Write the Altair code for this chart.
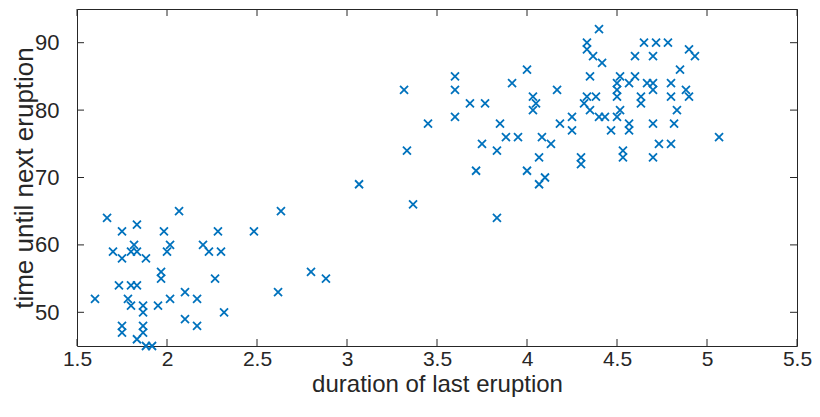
import altair as alt
import pandas as pd

duration = [
    1.667, 2.067, 1.833, 1.75, 1.983, 2.283, 1.817, 1.8, 1.833, 2.017, 2.0, 2.2, 1.7, 1.75, 1.883,
    2.233, 2.3, 1.967, 1.967, 2.267, 1.733, 1.8, 1.833, 1.6, 1.783, 1.8, 2.017, 2.1, 2.167, 1.95,
    1.867, 1.867, 2.317, 2.1, 2.167, 1.75, 1.75, 1.867, 1.867, 1.833, 1.883, 1.917,
    3.067, 2.633, 2.483, 2.8, 2.883, 2.617,
    3.317, 3.6, 3.6, 3.683, 3.767, 3.6, 3.45, 3.85, 3.883, 3.95, 3.75, 3.833, 3.333, 3.717, 3.367,
    3.833, 4.0, 3.917, 4.033, 4.05, 4.033, 4.083, 4.133, 4.067, 4.0, 4.1, 4.067, 4.167, 4.183,
    4.35, 4.517, 4.6, 4.567, 4.667, 4.7, 4.7, 4.8, 4.85, 4.883, 4.9, 4.8, 4.633, 4.633, 4.5, 4.5,
    4.5, 4.333, 4.383, 4.317, 4.35, 4.4, 4.433, 4.5, 4.517, 4.567, 4.567, 4.467, 4.25, 4.25, 4.7,
    4.817, 4.833, 4.733, 4.8, 5.067, 4.533, 4.533, 4.7, 4.3, 4.3,
    4.4, 4.333, 4.333, 4.367, 4.417, 4.65, 4.717, 4.783, 4.6, 4.7, 4.9, 4.933,
]
waiting = [
    64, 65, 63, 62, 62, 62, 60, 59, 59, 60, 59, 60, 59, 58, 58,
    59, 59, 56, 55, 55, 54, 54, 54, 52, 52, 51, 52, 53, 52, 51,
    51, 50, 50, 49, 48, 48, 47, 48, 47, 46, 45, 45,
    69, 65, 62, 56, 55, 53,
    83, 85, 83, 81, 81, 79, 78, 78, 76, 76, 75, 74, 74, 71, 66,
    64, 86, 84, 82, 81, 80, 76, 75, 73, 71, 70, 69, 83, 78,
    85, 85, 85, 84, 84, 84, 83, 84, 86, 83, 82, 82, 82, 81, 84, 83,
    82, 82, 82, 81, 80, 79, 79, 79, 80, 78, 77, 77, 79, 77, 78,
    78, 80, 75, 75, 76, 74, 73, 73, 73, 72,
    92, 90, 89, 88, 87, 90, 90, 90, 88, 88, 89, 88,
]

x_ticks = [1.5, 2, 2.5, 3, 3.5, 4, 4.5, 5, 5.5]
y_ticks = [50, 60, 70, 80, 90]
x_domain = [1.5, 5.5]
y_domain = [45, 95]

W, H = 720, 337
TICK = 7
AXIS_COLOR = "#262626"
FONT = "Liberation Sans"

df = pd.DataFrame({"duration": duration, "waiting": waiting})
xt = pd.DataFrame({"v": x_ticks})
yt = pd.DataFrame({"v": y_ticks})

xscale = alt.Scale(domain=x_domain, nice=False, zero=False)
yscale = alt.Scale(domain=y_domain, nice=False, zero=False)

points = alt.Chart(df).mark_point(
    shape="M-1,-1L1,1M-1,1L1,-1",
    filled=False,
    color="#0072BD",
    size=64,
    strokeWidth=1.8,
    opacity=1,
).encode(
    x=alt.X(
        "duration:Q",
        scale=xscale,
        axis=alt.Axis(
            values=x_ticks,
            format="~g",
            title="duration of last eruption",
            ticks=False,
            domain=False,
            grid=False,
            labelPadding=2,
            titleY=38,
            titleBaseline="middle",
            labelFontSize=21,
            titleFontSize=24,
            labelFlush=False,
        ),
    ),
    y=alt.Y(
        "waiting:Q",
        scale=yscale,
        axis=alt.Axis(
            values=y_ticks,
            title="time until next eruption",
            ticks=False,
            domain=False,
            grid=False,
            labelPadding=18,
            titleX=-53,
            titleBaseline="middle",
            labelFontSize=22,
            titleFontSize=26,
        ),
    ),
)

rule_style = dict(color=AXIS_COLOR, strokeWidth=1)

xb = alt.Chart(xt).mark_rule(**rule_style).encode(
    x=alt.X("v:Q", scale=xscale), y=alt.value(H), y2=alt.value(H - TICK)
)
xtp = alt.Chart(xt).mark_rule(**rule_style).encode(
    x=alt.X("v:Q", scale=xscale), y=alt.value(0), y2=alt.value(TICK)
)
yl = alt.Chart(yt).mark_rule(**rule_style).encode(
    y=alt.Y("v:Q", scale=yscale), x=alt.value(0), x2=alt.value(TICK)
)
yr = alt.Chart(yt).mark_rule(**rule_style).encode(
    y=alt.Y("v:Q", scale=yscale), x=alt.value(W), x2=alt.value(W - TICK)
)

chart = (
    alt.layer(xb, xtp, yl, yr, points)
    .properties(
        width=W,
        height=H,
        autosize=alt.AutoSizeParams(type="none"),
        padding={"left": 69, "top": 1, "right": 15, "bottom": 62},
        background="white",
    )
    .configure_view(stroke=AXIS_COLOR, strokeWidth=1)
    .configure_axis(
        labelFont=FONT,
        titleFont=FONT,
        labelColor=AXIS_COLOR,
        titleColor=AXIS_COLOR,
        titleFontWeight="normal",
    )
)

chart.save("out.html", embed_options={"renderer": "svg", "actions": False})
